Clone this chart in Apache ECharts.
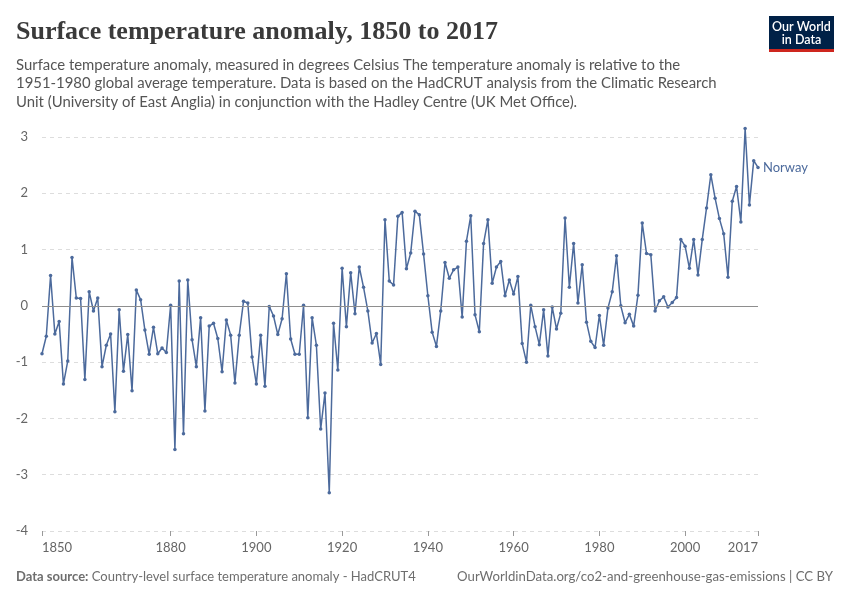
<!DOCTYPE html>
<html>
<head>
<meta charset="utf-8">
<script src="https://cdn.jsdelivr.net/npm/echarts@6/dist/echarts.min.js"></script>
<style>
html,body{margin:0;padding:0;background:#fff;}
#chart{width:850px;height:600px;}
</style>
</head>
<body>
<div id="chart"></div>
<script>
const startYear = 1850;
const norway = [
  -0.85, -0.54, 0.54, -0.50, -0.28, -1.39, -0.98, 0.86, 0.14, 0.13,
  -1.31, 0.25, -0.09, 0.14, -1.08, -0.70, -0.50, -1.88, -0.07, -1.16,
  -0.51, -1.51, 0.28, 0.11, -0.43, -0.86, -0.38, -0.85, -0.75, -0.83,
  0.01, -2.55, 0.44, -2.27, 0.46, -0.60, -1.08, -0.21, -1.87, -0.36,
  -0.31, -0.58, -1.17, -0.25, -0.52, -1.37, -0.52, 0.08, 0.05, -0.91,
  -1.39, -0.52, -1.43, -0.01, -0.18, -0.51, -0.23, 0.57, -0.59, -0.86,
  -0.86, 0.01, -1.99, -0.21, -0.70, -2.19, -1.55, -3.32, -0.31, -1.14,
  0.67, -0.37, 0.59, -0.14, 0.69, 0.33, -0.09, -0.66, -0.49, -1.04,
  1.53, 0.44, 0.37, 1.59, 1.66, 0.66, 0.94, 1.68, 1.62, 0.92,
  0.18, -0.47, -0.72, -0.09, 0.77, 0.49, 0.64, 0.69, -0.20, 1.15,
  1.60, -0.16, -0.46, 1.11, 1.53, 0.40, 0.69, 0.79, 0.18, 0.46,
  0.21, 0.52, -0.67, -1.00, 0.01, -0.37, -0.69, -0.07, -0.89, -0.02,
  -0.41, -0.13, 1.56, 0.33, 1.11, 0.05, 0.73, -0.29, -0.63, -0.74,
  -0.17, -0.70, -0.04, 0.25, 0.89, 0.00, -0.30, -0.15, -0.36, 0.19,
  1.47, 0.93, 0.91, -0.09, 0.09, 0.16, -0.02, 0.06, 0.15, 1.18,
  1.06, 0.67, 1.18, 0.55, 1.18, 1.74, 2.33, 1.91, 1.55, 1.28,
  0.51, 1.86, 2.12, 1.49, 3.15, 1.79, 2.58, 2.46
];
const xTickYears = [1850, 1880, 1900, 1920, 1940, 1960, 1980, 2000, 2017];
const yTicks = [-4, -3, -2, -1, 0, 1, 2, 3];
const seriesName = 'Norway';

const data = norway.map((v, i) => [startYear + i, v]);

const chart = echarts.init(document.getElementById('chart'), null, {renderer: 'canvas'});
chart.setOption({
  animation: false,
  backgroundColor: '#fff',
  title: [
    {
      text: 'Surface temperature anomaly, 1850 to 2017',
      left: 16, top: 19.5, padding: 0,
      textStyle: {fontFamily: 'Liberation Serif', fontSize: 26, fontWeight: 'bold', color: '#3a3a3a'}
    },
    {
      text: 'Surface temperature anomaly, measured in degrees Celsius The temperature anomaly is relative to the\n1951-1980 global average temperature. Data is based on the HadCRUT analysis from the Climatic Research\nUnit (University of East Anglia) in conjunction with the Hadley Centre (UK Met Office).',
      left: 16, top: 55.5, padding: 0,
      textStyle: {fontFamily: 'Lato', fontSize: 14.9, fontWeight: 'normal', color: '#555', lineHeight: 18.5}
    }
  ],
  graphic: [
    {type: 'rect', left: 769, top: 16, shape: {width: 65, height: 34}, style: {fill: '#002147'}},
    {type: 'rect', left: 769, top: 49, shape: {width: 65, height: 3}, style: {fill: '#ce261e'}},
    {type: 'text', x: 801.5, y: 27, style: {text: 'Our World', fill: '#fff', font: '600 12.5px Lato', align: 'center', verticalAlign: 'middle'}},
    {type: 'text', x: 801.5, y: 39.5, style: {text: 'in Data', fill: '#fff', font: '600 12.5px Lato', align: 'center', verticalAlign: 'middle'}},
    {type: 'text', left: 16, top: 570, style: {
      rich: {b: {fontFamily: 'Lato', fontSize: 13, fontWeight: 'bold', fill: '#6e6e6e'}, n: {fontFamily: 'Lato', fontSize: 13, fill: '#6e6e6e'}},
      text: '{b|Data source:} {n|Country-level surface temperature anomaly - HadCRUT4}'
    }},
    {type: 'text', right: 17, top: 570, style: {text: 'OurWorldinData.org/co2-and-greenhouse-gas-emissions | CC BY', font: '13.2px Lato', fill: '#6e6e6e'}}
  ],
  grid: {left: 42, right: 92, top: 137, bottom: 69, containLabel: false},
  xAxis: {
    type: 'value', min: 1850, max: 2017,
    axisLine: {show: false, onZero: false},
    axisTick: {show: true, length: 5, lineStyle: {color: '#999'}, customValues: xTickYears},
    axisLabel: {customValues: xTickYears, color: '#666', fontFamily: 'Lato', fontSize: 13, margin: 10,
      alignMinLabel: 'left', alignMaxLabel: 'right', formatter: v => String(v)},
    splitLine: {show: false}
  },
  yAxis: {
    type: 'value', min: -4, max: 3, interval: 1,
    axisLine: {show: false}, axisTick: {show: false},
    axisLabel: {color: '#666', fontFamily: 'Lato', fontSize: 13, margin: 14},
    splitLine: {show: true, lineStyle: {color: '#ddd', type: [4, 4], width: 1}}
  },
  series: [{
    name: seriesName,
    type: 'line',
    data: data,
    clip: false,
    showSymbol: true,
    symbol: 'circle',
    symbolSize: 3.5,
    itemStyle: {color: '#4c6a9c'},
    lineStyle: {color: '#4c6a9c', width: 1.5},
    endLabel: {show: true, formatter: seriesName, color: '#4c6a9c', fontFamily: 'Lato', fontSize: 13, distance: 5},
    markLine: {
      silent: true, symbol: 'none', label: {show: false},
      lineStyle: {color: '#8e8e8e', type: 'solid', width: 1},
      data: [{yAxis: 0}]
    },
    z: 3
  }]
});
</script>
</body>
</html>
